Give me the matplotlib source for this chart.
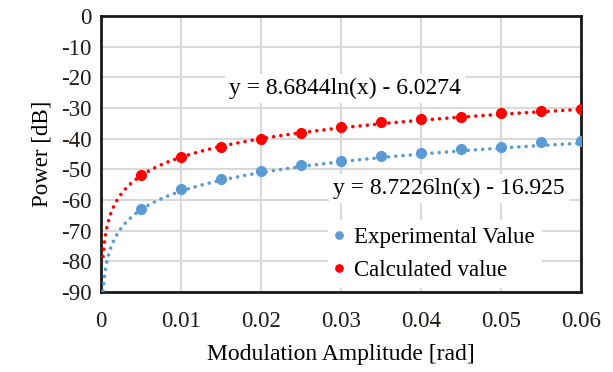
import matplotlib.pyplot as plt
import numpy as np

plt.rcParams['font.family'] = ['Liberation Serif', 'DejaVu Serif']
plt.rcParams['axes.unicode_minus'] = False

# Data
amplitude = [0.005, 0.010, 0.015, 0.020, 0.025, 0.030,
             0.035, 0.040, 0.045, 0.050, 0.055, 0.060]
experimental = [-62.9, -56.4, -53.1, -50.5, -48.6, -47.2,
                -45.6, -44.6, -43.4, -42.6, -41.2, -40.7]
calculated = [-51.8, -45.9, -42.6, -40.0, -38.0, -36.1,
              -34.7, -33.5, -32.8, -31.7, -30.9, -30.3]

# Logarithmic trendline coefficients shown in the chart labels (a*ln(x) + b)
exp_fit = [8.7226, -16.925]
calc_fit = [8.6844, -6.0274]

x_ticks = [0, 0.01, 0.02, 0.03, 0.04, 0.05, 0.06]
x_tick_labels = ['0', '0.01', '0.02', '0.03', '0.04', '0.05', '0.06']
y_ticks = [0, -10, -20, -30, -40, -50, -60, -70, -80, -90]

blue = '#5b9bd5'
red = '#ff0000'

fig = plt.figure(figsize=(6.13, 3.72), dpi=100)
ax = fig.add_axes([0.165, 0.215, 0.783, 0.742])

# Trendlines (dotted)
xs = np.linspace(0.00024, 0.06, 400)
dots = (0, (0.01, 2.0))
ax.plot(xs, exp_fit[0] * np.log(xs) + exp_fit[1], color=blue,
        linestyle=dots, linewidth=2.6, dash_capstyle='round', zorder=3)
ax.plot(xs, calc_fit[0] * np.log(xs) + calc_fit[1], color=red,
        linestyle=dots, linewidth=2.6, dash_capstyle='round', zorder=3)

# Data points
ax.plot(amplitude, experimental, 'o', color=blue, markersize=7,
        label='Experimental Value', zorder=4)
ax.plot(amplitude, calculated, 'o', color=red, markersize=7,
        label='Calculated value', zorder=4)

ax.set_xlim(0, 0.06)
ax.set_ylim(-90, 0)
ax.set_xticks(x_ticks)
ax.set_xticklabels(x_tick_labels)
ax.set_yticks(y_ticks)
ax.tick_params(axis='x', length=0, labelsize=16.5, pad=14, labelcolor='#1f1a14')
ax.tick_params(axis='y', length=0, labelsize=16.5, pad=7, labelcolor='#1f1a14')
ax.grid(color='#d9d9d9', linewidth=1.5)
ax.set_axisbelow(True)
for s in ax.spines.values():
    s.set_linewidth(2)
    s.set_color('#1a1a1a')

ax.set_xlabel('Modulation Amplitude [rad]', fontsize=17, labelpad=8)
ax.set_ylabel('Power [dB]', fontsize=16.5, labelpad=6)

# Trendline equations
ax.text(0.0305, -23.6, 'y = 8.6844ln(x) - 6.0274', fontsize=17,
        ha='center', va='center', zorder=5,
        bbox=dict(facecolor='white', edgecolor='none', pad=3))
ax.text(0.0435, -56.2, 'y = 8.7226ln(x) - 16.925', fontsize=17,
        ha='center', va='center', zorder=5,
        bbox=dict(facecolor='white', edgecolor='none', pad=3))

leg = ax.legend(loc='upper left', bbox_to_anchor=(0.472, 0.26), frameon=True,
                fontsize=16.5, handlelength=0.4, handletextpad=0.45,
                labelspacing=0.5, borderaxespad=0, borderpad=0.3,
                markerscale=0.75)
leg.get_frame().set_edgecolor('none')
leg.get_frame().set_alpha(1)
leg.set_zorder(5)

fig.savefig('out.png', dpi=100)
